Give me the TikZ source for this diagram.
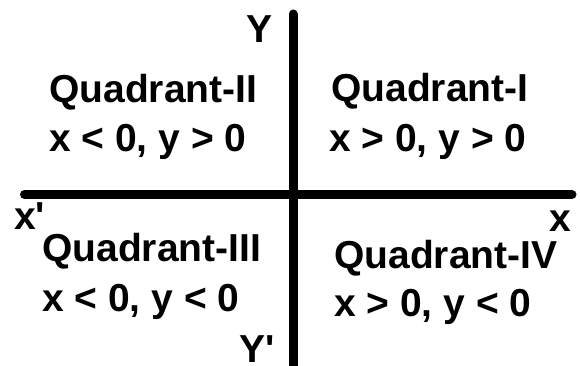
\documentclass[tikz,border=0pt]{standalone}
\usepackage{fontspec}
\newfontfamily\arial{Liberation Sans}
\begin{document}
\begin{tikzpicture}[x=1pt,y=-1pt,
  lbl/.style={font=\arial\fontsize{39}{46}\selectfont\bfseries, inner sep=0pt, anchor=base west, text=black},
  axis/.style={line width=9pt, line cap=round, draw=black}]
\useasboundingbox (0,0) rectangle (580,366);
\coordinate (ytop) at (293,14);
\coordinate (ybot) at (293,372);
\coordinate (xl) at (24.5,194.5);
\coordinate (xr) at (572,194.5);
\draw[axis] (xl) -- (xr);
\draw[axis] (ytop) -- (ybot);
\node[lbl] (Y) at (246,43) {Y};
\node[lbl] (Yp) at (239,362) {Y'};
\node[lbl] (xp) at (14,229) {x'};
\node[lbl] (xx) at (549,231) {x};
\node[lbl] (q2) at (49,103) {Quadrant-II};
\node[lbl] (c2) at (49,152) {x < 0, y > 0};
\node[lbl] (q1) at (331,102) {Quadrant-I};
\node[lbl] (c1) at (329,152) {x > 0, y > 0};
\node[lbl] (q3) at (42,261) {Quadrant-III};
\node[lbl] (c3) at (42,311) {x < 0, y < 0};
\node[lbl] (q4) at (334,268) {Quadrant-IV};
\node[lbl] (c4) at (334,316) {x > 0, y < 0};
\end{tikzpicture}
\end{document}
